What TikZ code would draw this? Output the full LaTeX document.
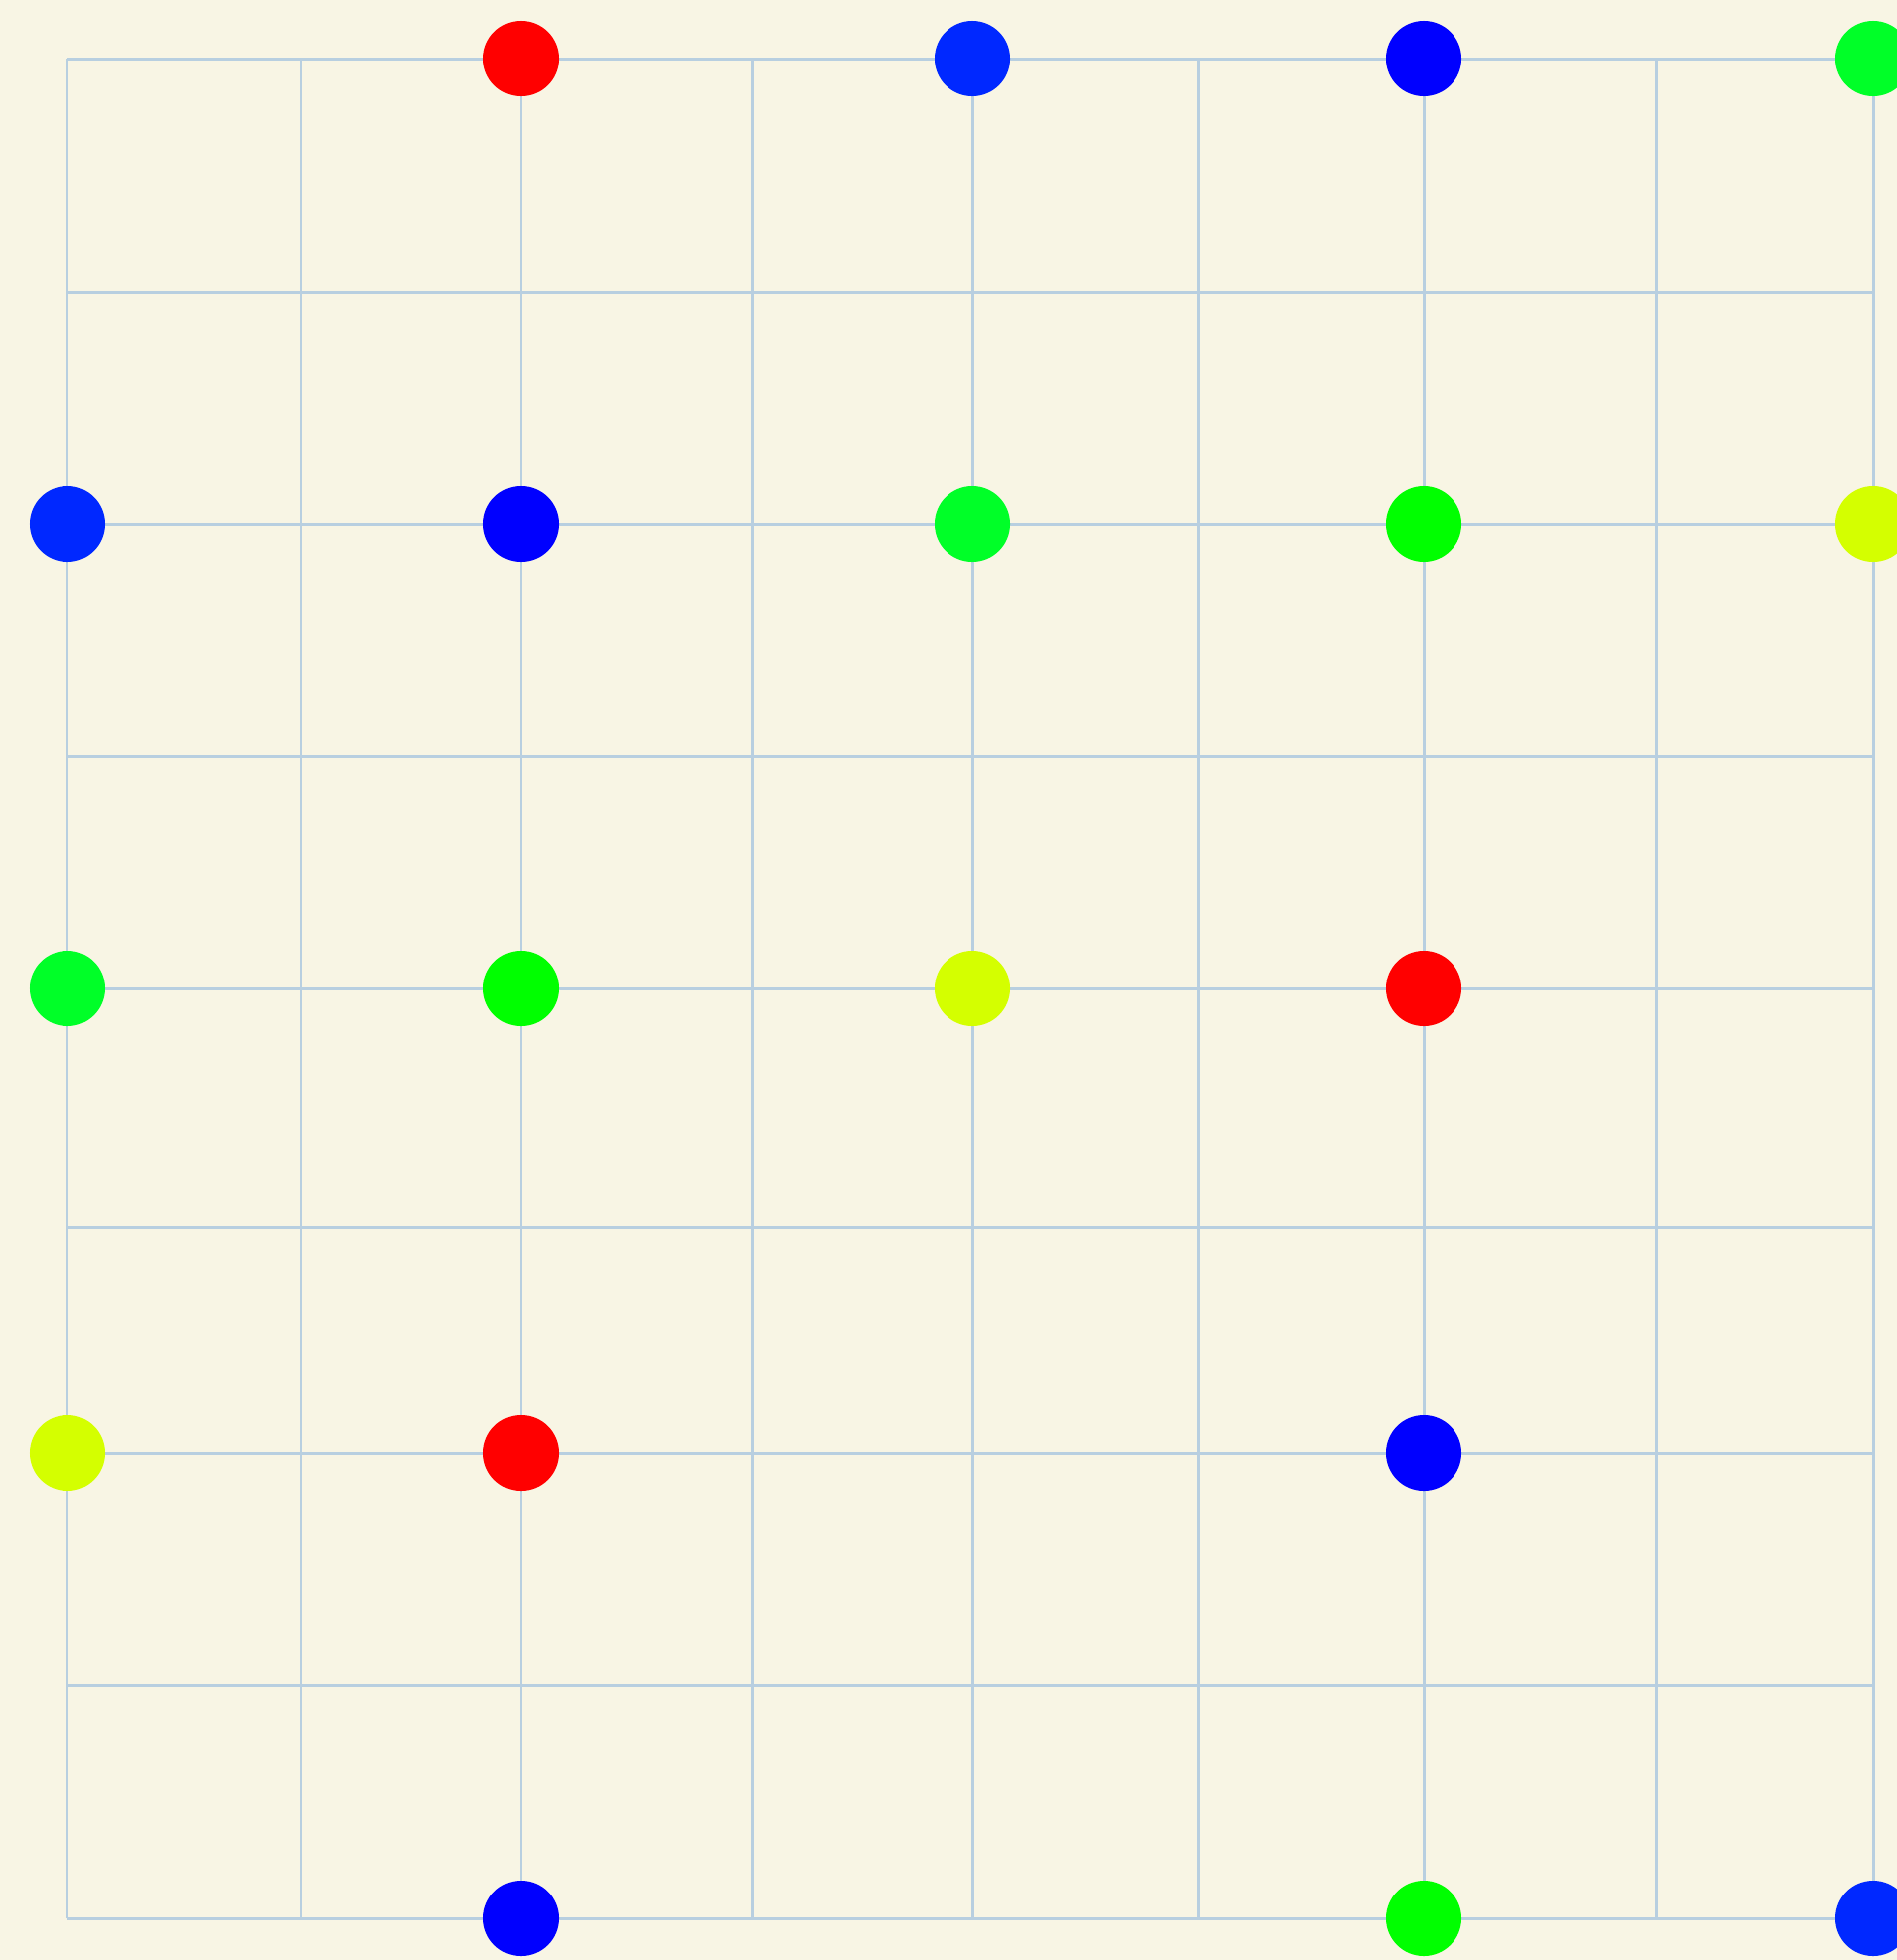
\documentclass[tikz,border=0pt]{standalone}
\definecolor{bgc}{RGB}{248,245,228}
\definecolor{gridc}{RGB}{184,207,224}
\definecolor{cRed}{RGB}{255,0,0}
\definecolor{cBlue}{RGB}{0,0,255}
\definecolor{cBlueB}{RGB}{0,40,255}
\definecolor{cGreen}{RGB}{0,255,0}
\definecolor{cGreenB}{RGB}{0,255,40}
\definecolor{cYel}{RGB}{212,255,0}
\begin{document}
\begin{tikzpicture}[x=0.01cm,y=-0.01cm,
  gridline/.style={draw=gridc,line width=0.85pt},
  dot/.style={circle,inner sep=0pt,minimum size=0.76cm,fill=#1,draw=none}]
\useasboundingbox (0,0) rectangle (1912,1975);
\clip (0,0) rectangle (1912,1975);
\fill[bgc] (0,0) rectangle (1912,1975);
% grid lines
\foreach \x in {68,303,525,758.5,980,1207,1435,1669,1888}
  \draw[gridline] (\x,59) -- (\x,1933);
\foreach \y in {59,294,528,762,996,1236,1464,1698,1933}
  \draw[gridline] (68,\y) -- (1888,\y);
% dots
\node[dot=cRed]    (d01) at (525,59) {};
\node[dot=cBlueB]  (d02) at (980,59) {};
\node[dot=cBlue]   (d03) at (1435,59) {};
\node[dot=cGreenB] (d04) at (1888,59) {};
\node[dot=cBlueB]  (d10) at (68,528) {};
\node[dot=cBlue]   (d11) at (525,528) {};
\node[dot=cGreenB] (d12) at (980,528) {};
\node[dot=cGreen]  (d13) at (1435,528) {};
\node[dot=cYel]    (d14) at (1888,528) {};
\node[dot=cGreenB] (d20) at (68,996) {};
\node[dot=cGreen]  (d21) at (525,996) {};
\node[dot=cYel]    (d22) at (980,996) {};
\node[dot=cRed]    (d23) at (1435,996) {};
\node[dot=cYel]    (d30) at (68,1464) {};
\node[dot=cRed]    (d31) at (525,1464) {};
\node[dot=cBlue]   (d33) at (1435,1464) {};
\node[dot=cBlue]   (d41) at (525,1933) {};
\node[dot=cGreen]  (d43) at (1435,1933) {};
\node[dot=cBlueB]  (d44) at (1888,1933) {};
\end{tikzpicture}
\end{document}
